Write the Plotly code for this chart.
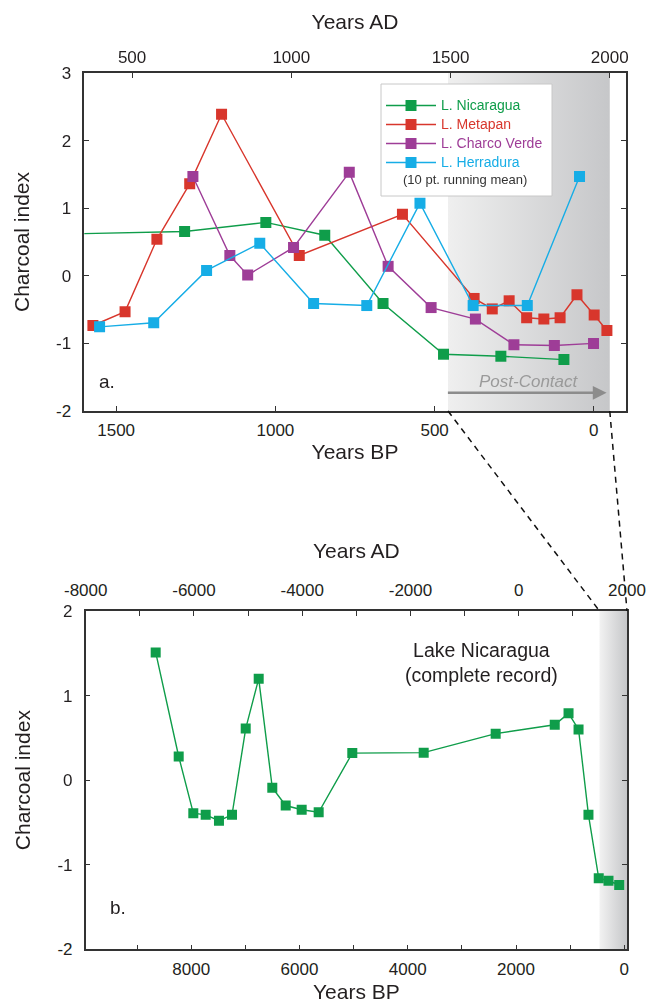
import plotly.graph_objects as go

# ---------------- data (Years BP, charcoal index) ----------------
nic_bp = [8657, 8232, 7962, 7733, 7488, 7247, 6994, 6754, 6503, 6255, 5960, 5646,
          5025, 3706, 2376, 1285, 1030, 845, 662, 472, 292, 94]
nic_val = [1.51, 0.28, -0.39, -0.41, -0.48, -0.41, 0.61, 1.20, -0.09, -0.30, -0.35, -0.38,
           0.32, 0.325, 0.55, 0.655, 0.79, 0.60, -0.41, -1.16, -1.19, -1.24]

met_bp = [1573, 1472, 1372, 1269, 1169, 925, 601, 376, 319, 266, 211, 157, 106, 53, -1, -41]
met_val = [-0.735, -0.53, 0.54, 1.36, 2.39, 0.30, 0.91, -0.335, -0.49, -0.37, -0.62,
           -0.64, -0.62, -0.28, -0.58, -0.81]

cv_bp = [1259, 1143, 1087, 943, 768, 646, 511, 372, 251, 124, 1]
cv_val = [1.47, 0.30, 0.01, 0.42, 1.53, 0.14, -0.47, -0.64, -1.02, -1.03, -1.00]

her_bp = [1552, 1382, 1216, 1049, 880, 713, 546, 379, 209, 45]
her_val = [-0.755, -0.695, 0.08, 0.48, -0.41, -0.44, 1.075, -0.44, -0.44, 1.47]

series_names = ["L. Nicaragua", "L. Metapan", "L. Charco Verde", "L. Herradura"]
series_colors = ["#0f9d4a", "#d8362c", "#9e3d97", "#16ade6"]

CONTACT_AD = 1492
END_AD = 2000
BP_REF = 1950

# top panel axes
p1_bp_ticks = [1500, 1000, 500, 0]
p1_ad_ticks = [500, 1000, 1500, 2000]
p1_y_ticks = [-2, -1, 0, 1, 2, 3]
# bottom panel axes
p2_bp_ticks = [9000, 8000, 7000, 6000, 5000, 4000, 3000, 2000, 1000, 0]
p2_bp_labels = ["", "8000", "", "6000", "", "4000", "", "2000", "", "0"]
p2_ad_ticks = [-8000, -7000, -6000, -5000, -4000, -3000, -2000, -1000, 0, 1000, 2000]
p2_ad_labels = ["-8000", "", "-6000", "", "-4000", "", "-2000", "", "0", "", "2000"]
p2_y_ticks = [-2, -1, 0, 1, 2]

# ---------------- layout geometry ----------------
W, H = 652, 1005
P1_X = [84.3 / W, 625.7 / W]
P1_Y = [1 - 411 / H, 1 - 73 / H]
P2_X = [85.7 / W, 627.0 / W]
P2_Y = [1 - 949.3 / H, 1 - 611 / H]
P1_RANGE = [1600, -100]
P2_RANGE = [BP_REF + 8000, BP_REF - END_AD]
P1_YR = [-2, 3]
P2_YR = [-2, 2]

contact_bp = BP_REF - CONTACT_AD
end_bp = BP_REF - END_AD


def paper_x(bp, dom, rng):
    return dom[0] + (rng[0] - bp) / (rng[0] - rng[1]) * (dom[1] - dom[0])


FONT = "Liberation Sans, Arial, Helvetica, sans-serif"
INK = "#231f20"
AX = "#333333"

fig = go.Figure()

# shading (post-contact)
fig.add_trace(go.Scatter(
    x=[contact_bp, end_bp, end_bp, contact_bp, contact_bp],
    y=[P1_YR[0], P1_YR[0], P1_YR[1], P1_YR[1], P1_YR[0]],
    fill="toself", mode="none", showlegend=False, hoverinfo="skip",
    fillgradient=dict(type="horizontal", colorscale=[[0, "#efefef"], [1, "#c6c7c9"]]),
    xaxis="x", yaxis="y"))
fig.add_trace(go.Scatter(
    x=[contact_bp, end_bp, end_bp, contact_bp, contact_bp],
    y=[P2_YR[0], P2_YR[0], P2_YR[1], P2_YR[1], P2_YR[0]],
    fill="toself", mode="none", showlegend=False, hoverinfo="skip",
    fillgradient=dict(type="horizontal", colorscale=[[0, "#f2f2f2"], [1, "#c6c7c9"]]),
    xaxis="x3", yaxis="y2"))

# invisible companions so the calendar (AD) axes are drawn
fig.add_trace(go.Scatter(
    x=[BP_REF - b for b in nic_bp], y=nic_val, mode="markers", opacity=0,
    showlegend=False, hoverinfo="skip", xaxis="x2", yaxis="y"))
fig.add_trace(go.Scatter(
    x=[BP_REF - b for b in nic_bp], y=nic_val, mode="markers", opacity=0,
    showlegend=False, hoverinfo="skip", xaxis="x4", yaxis="y2"))

# top panel series
for name, col, xs, ys in zip(series_names, series_colors,
                             [nic_bp, met_bp, cv_bp, her_bp],
                             [nic_val, met_val, cv_val, her_val]):
    fig.add_trace(go.Scatter(
        x=xs, y=ys, mode="lines+markers",
        name=f'<span style="color:{col};font-size:14px">{name}</span>',
        line=dict(color=col, width=1.4),
        marker=dict(symbol="square", size=11, color=col),
        xaxis="x", yaxis="y"))

# bottom panel: Lake Nicaragua complete record
fig.add_trace(go.Scatter(
    x=nic_bp, y=nic_val, mode="lines+markers", showlegend=False,
    line=dict(color=series_colors[0], width=1.4),
    marker=dict(symbol="square", size=10, color=series_colors[0]),
    xaxis="x3", yaxis="y2"))

tickfont = dict(family=FONT, size=17, color=INK)
titlefont = dict(family=FONT, size=21, color=INK)
common = dict(showline=True, linecolor=AX, linewidth=1.5, ticks="inside", ticklen=5,
              tickwidth=1.3, tickcolor=AX, showgrid=False, zeroline=False,
              tickfont=tickfont, fixedrange=True, automargin=False)

fig.update_layout(
    width=W, height=H,
    margin=dict(l=0, r=0, t=0, b=0, pad=0, autoexpand=False),
    paper_bgcolor="white", plot_bgcolor="rgba(0,0,0,0)",
    font=dict(family=FONT, color=INK),
    xaxis=dict(domain=P1_X, range=P1_RANGE, anchor="y", tickvals=p1_bp_ticks,
               ticklabelstandoff=3,
               title=dict(text="Years BP", font=titlefont, standoff=5), **common),
    xaxis2=dict(domain=P1_X, range=[BP_REF - P1_RANGE[0], BP_REF - P1_RANGE[1]],
                overlaying="x", side="top", anchor="y", tickvals=p1_ad_ticks,
                ticklabelstandoff=1,
                title=dict(text="Years AD", font=titlefont, standoff=13), **common),
    yaxis=dict(domain=P1_Y, range=P1_YR, anchor="x", tickvals=p1_y_ticks,
               ticktext=[str(v) for v in p1_y_ticks], mirror="ticks", ticklabelstandoff=8,
               title=dict(text="Charcoal index", font=titlefont, standoff=21), **common),
    xaxis3=dict(domain=P2_X, range=P2_RANGE, anchor="y2", tickvals=p2_bp_ticks,
                ticktext=p2_bp_labels, ticklabelstandoff=4,
                title=dict(text="Years BP", font=titlefont, standoff=6), **common),
    xaxis4=dict(domain=P2_X, range=[BP_REF - P2_RANGE[0], BP_REF - P2_RANGE[1]],
                overlaying="x3", side="top", anchor="y2", tickvals=p2_ad_ticks,
                ticktext=p2_ad_labels, ticklabelstandoff=6,
                title=dict(text="Years AD", font=titlefont, standoff=17), **common),
    yaxis2=dict(domain=P2_Y, range=P2_YR, anchor="x3", tickvals=p2_y_ticks,
                ticktext=[str(v) for v in p2_y_ticks], mirror="ticks", ticklabelstandoff=8,
                title=dict(text="Charcoal index", font=titlefont, standoff=21), **common),
    legend=dict(x=381 / W, y=1 - 91 / H, xanchor="left", yanchor="top",
                bgcolor="rgba(0,0,0,0)", borderwidth=0, itemwidth=50,
                font=dict(family=FONT, size=12.3), tracegroupgap=0),
    showlegend=True,
)

# legend frame
fig.add_shape(type="rect", xref="paper", yref="paper",
              x0=381 / W, x1=552 / W, y0=1 - 196 / H, y1=1 - 84 / H,
              line=dict(color="#c8c8c8", width=1), fillcolor="white", layer="above")

# dashed connector lines between panels
for bp in [contact_bp, end_bp]:
    fig.add_shape(type="line", xref="paper", yref="paper",
                  x0=paper_x(bp, P1_X, P1_RANGE), y0=P1_Y[0],
                  x1=paper_x(bp, P2_X, P2_RANGE), y1=P2_Y[1],
                  line=dict(color="#111111", width=1.5, dash="6px,5px"), layer="above")

C = dict(xanchor="center", yanchor="middle", showarrow=False)
annos = [
    dict(text="(10 pt. running mean)", xref="paper", yref="paper", x=465 / W, y=1 - 180 / H,
         font=dict(size=13, color="#333333"), **C),
    dict(text="a.", xref="paper", yref="paper", x=107 / W, y=1 - 381 / H,
         font=dict(size=19, color=INK), **C),
    dict(text="b.", xref="paper", yref="paper", x=118 / W, y=1 - 907 / H,
         font=dict(size=19, color=INK), **C),
    dict(text="<i>Post-Contact</i>", xref="x", yref="y",
         x=(contact_bp + end_bp) / 2, y=-1.56,
         font=dict(size=17, color="#9a9a9a"), **C),
    dict(text="", xref="x", yref="y", axref="x", ayref="y",
         x=end_bp + 10, y=-1.73, ax=contact_bp + 5, ay=-1.73,
         showarrow=True, arrowhead=2, arrowsize=1.1, arrowwidth=2.5, arrowcolor="#8c8c8c"),
    dict(text="Lake Nicaragua<br>(complete record)", xref="paper", yref="paper",
         x=481 / W, y=1 - 662 / H, font=dict(size=19.5, color=INK), **C),
]
fig.update_layout(annotations=annos)

fig.write_html("out.html", config={"displayModeBar": False},
               post_script="document.body.style.margin='0';")
